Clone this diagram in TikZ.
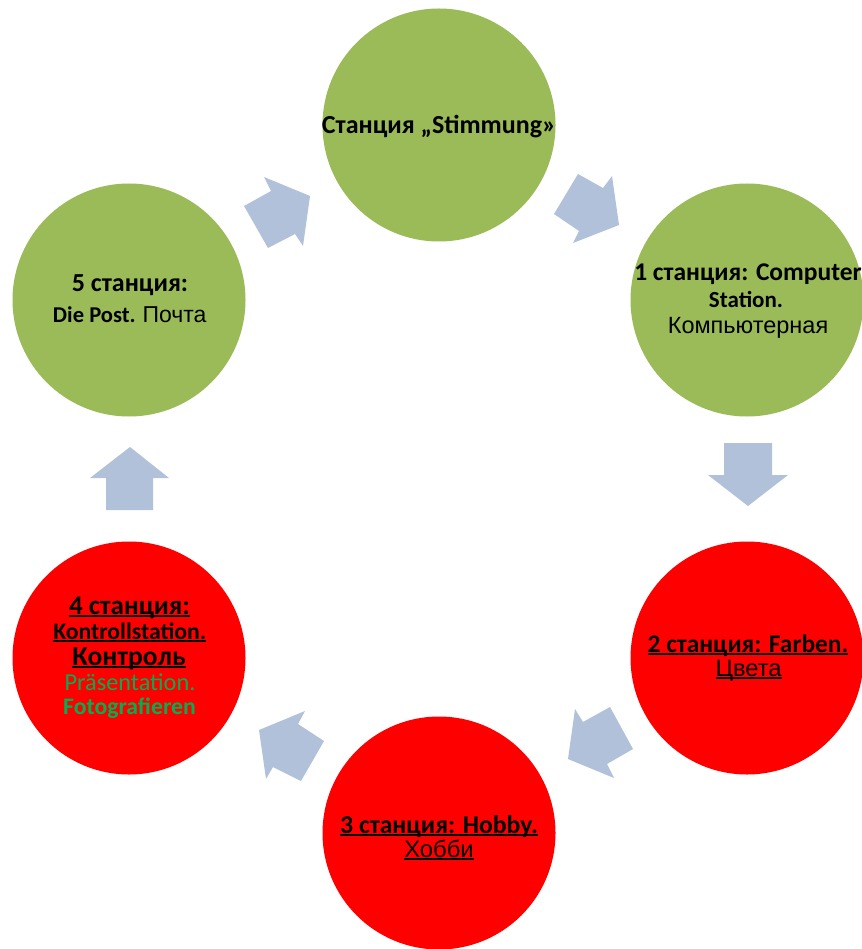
\documentclass[tikz,border=0pt]{standalone}
\usepackage{fontspec}
\setmainfont{Carlito}
\newfontfamily\arialf{Liberation Sans}
\definecolor{cgreen}{HTML}{9BBB59}
\definecolor{cred}{HTML}{FF0000}
\definecolor{carrow}{HTML}{B2C1DA}
\definecolor{tgreen}{HTML}{00B050}
\newcommand{\myul}[1]{\setbox0\hbox{#1}\rlap{\rule[-3pt]{\wd0}{1.8pt}}\box0}
\newcommand{\fs}[1]{\fontsize{#1}{#1}\selectfont}
\tikzset{
  station/.style={circle, inner sep=0pt, minimum size=233pt, draw=none},
  txt/.style={anchor=base, inner sep=0pt, text=black},
  arr/.style={fill=carrow, draw=none}
}
\begin{document}
\begin{tikzpicture}[x=1pt,y=-1pt]
\useasboundingbox (0,0) rectangle (861,949);
\fill[white] (0,0) rectangle (861,949);
% circles
\node[station, fill=cgreen] (s0) at (439,125) {};
\node[station, fill=cgreen] (s1) at (747,300) {};
\node[station, fill=cred] (s2) at (747,658) {};
\node[station, fill=cred] (s3) at (439,833) {};
\node[station, fill=cred] (s4) at (129,658) {};
\node[station, fill=cgreen] (s5) at (129,300) {};
% top
\node[txt] (t0) at (439,134) {\fs{26}\bfseries Станция „Stimmung»};
% 1
\node[txt] (t1a) at (748,280) {\fs{25.5}\bfseries 1 станция: Computer};
\node[txt] (t1b) at (746,307) {\fs{23}\bfseries Station.};
\node[txt] (t1c) at (748,333) {\arialf\fs{23.5}Компьютерная};
% 2
\node[txt] (t2a) at (748,652) {\myul{\fs{25.4}\bfseries 2 станция: Farben.}};
\node[txt] (t2b) at (748.5,676) {\myul{\arialf\fs{23.7}Цвета}};
% 3
\node[txt] (t3a) at (439,833) {\myul{\fs{25.7}\bfseries 3 станция: Hobby.}};
\node[txt] (t3b) at (439,857) {\myul{\arialf\fs{23.8}Хобби}};
% 4
\node[txt] (t4a) at (129.5,614) {\myul{\fs{27}\bfseries 4 станция:}};
\node[txt] (t4b) at (129.7,639) {\myul{\fs{23.7}\bfseries Kontrollstation.}};
\node[txt] (t4c) at (129,665) {\myul{\fs{27.5}\bfseries Контроль}};
\node[txt, text=tgreen] (t4d) at (130,690) {\fs{24.3}Präsentation.};
\node[txt, text=tgreen] (t4e) at (129.5,714) {\fs{23.7}\bfseries Fotografieren};
% 5
\node[txt] (t5a) at (130,291) {\fs{26}\bfseries 5 станция:};
\node[txt] (t5b) at (129.7,322) {\fs{22.6}\bfseries Die Post. \arialf\mdseries\fs{23}Почта};
% arrows
\fill[arr] (244,206) -- (271,191) -- (264,177) -- (310,196) -- (303,246) -- (295,234) -- (268,248) -- cycle;
\fill[arr] (554,214) -- (578,174) -- (603,188) -- (612,176) -- (619,225) -- (573,243) -- (579,231) -- cycle;
\fill[arr] (724,443) -- (772,443) -- (772,475) -- (788,475) -- (748,506) -- (708,475) -- (724,475) -- cycle;
\fill[arr] (568,759) -- (575,709) -- (583,722) -- (610,707) -- (633,749) -- (607,764) -- (614,778) -- cycle;
\fill[arr] (305,711) -- (298,724) -- (324,741) -- (301,781) -- (273,767) -- (266,779) -- (259,730) -- cycle;
\fill[arr] (130,447) -- (169,478) -- (153,478) -- (153,510) -- (106,510) -- (106,478) -- (90,478) -- cycle;
\end{tikzpicture}
\end{document}
